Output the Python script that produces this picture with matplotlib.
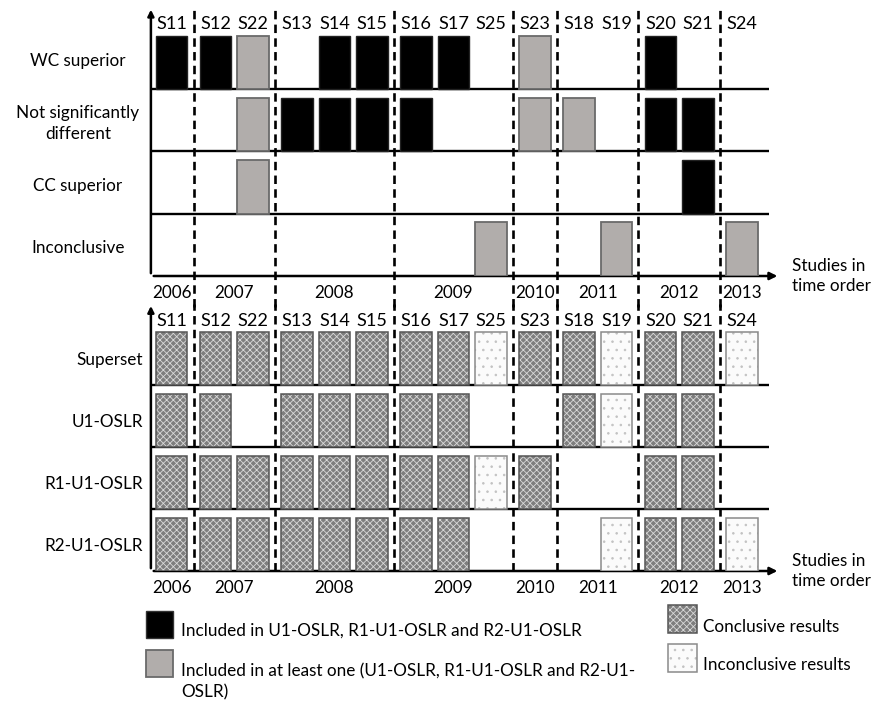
import matplotlib.pyplot as plt
from matplotlib.patches import Rectangle

plt.rcParams['font.family'] = ['Lato', 'DejaVu Sans']
plt.rcParams['hatch.linewidth'] = 0.6

# studies in time order and their year
studies = ["S11", "S12", "S22", "S13", "S14", "S15", "S16", "S17", "S25",
           "S23", "S18", "S19", "S20", "S21", "S24"]
years = [2006, 2007, 2007, 2008, 2008, 2008, 2009, 2009, 2009,
         2010, 2011, 2011, 2012, 2012, 2013]

# black = in all three sets, grey = in at least one
in_all_three = ["S11", "S12", "S13", "S14", "S15", "S16", "S17", "S20", "S21"]
inconclusive_results = ["S25", "S19", "S24"]

# top panel: outcome per study
outcome_labels = ["WC superior", "Not significantly\ndifferent", "CC superior", "Inconclusive"]
wc_superior = ["S11", "S12", "S22", "S14", "S15", "S16", "S17", "S23", "S20"]
not_different = ["S22", "S13", "S14", "S15", "S16", "S23", "S18", "S20", "S21"]
cc_superior = ["S22", "S21"]
inconclusive = ["S25", "S19", "S24"]

# bottom panel: which study sets contain the study
method_labels = ["Superset", "U1-OSLR", "R1-U1-OSLR", "R2-U1-OSLR"]
superset = studies
u1_oslr = ["S11", "S12", "S13", "S14", "S15", "S16", "S17", "S18", "S19", "S20", "S21"]
r1_u1_oslr = ["S11", "S12", "S22", "S13", "S14", "S15", "S16", "S17", "S25", "S23", "S20", "S21"]
r2_u1_oslr = ["S11", "S12", "S22", "S13", "S14", "S15", "S16", "S17", "S19", "S20", "S21", "S24"]

# x position: index plus a small gap at every change of year
gap = 0.173
pos = []
g = 0
for i, y in enumerate(years):
    if i > 0 and y != years[i - 1]:
        g += 1
    pos.append(i + gap * g)
pos_of = dict(zip(studies, pos))

bounds = [(pos[i - 1] + pos[i]) / 2 for i in range(1, len(years)) if years[i] != years[i - 1]]
year_list = sorted(set(years))
year_x = [sum(p for p, y in zip(pos, years) if y == yr) / years.count(yr) for yr in year_list]

W = 0.84
H = 0.86
XMIN, XMAX = -0.55, 16.3
LINE_END = 15.93
ARROW_END = 16.23
fs = 12.3

CONC_FACE, CONC_HATCH, CONC_EDGE = '#7e7e7e', '#d9d9d9', '#555555'
INC_FACE, INC_HATCH, INC_EDGE = '#fbfbfb', '#c2c2c2', '#8a8a8a'


def frame(ax, top_dash_low):
    ax.set_xlim(XMIN, XMAX)
    ax.set_ylim(0, 4.35)
    ax.axis('off')
    ax.hlines([1, 2, 3], XMIN, LINE_END, color='black', lw=1.7)
    ax.annotate('', xy=(ARROW_END, 0), xytext=(XMIN, 0),
                arrowprops=dict(arrowstyle='-|>', color='black', lw=1.8, mutation_scale=11),
                annotation_clip=False)
    ax.annotate('', xy=(XMIN, 4.32), xytext=(XMIN, 0),
                arrowprops=dict(arrowstyle='-|>', color='black', lw=1.8, mutation_scale=9),
                annotation_clip=False)
    for b in bounds:
        ax.plot([b, b], [top_dash_low, 4.3], color='black', lw=1.9,
                linestyle=(0, (3.2, 2.0)), clip_on=False, zorder=1)
    for s, p in zip(studies, pos):
        ax.text(p, 4.04, s, ha='center', va='center', fontsize=fs + 0.8)
    for yr, x in zip(year_list, year_x):
        ax.text(x, -0.27, str(yr), ha='center', va='center', fontsize=fs)
    ax.text(16.55, 0.0, "Studies in\ntime order", ha='left', va='center',
            fontsize=fs, linespacing=1.3)


def solid_bar(ax, x, y0, study):
    if study in in_all_three:
        ax.bar(x, H, W, bottom=y0, color='black', edgecolor='#222222', lw=1, zorder=3)
    else:
        ax.bar(x, H, W, bottom=y0, color='#b1adab', edgecolor='#6a6a6a', lw=1.3, zorder=3)


def texture_bar(ax, x, y0, study):
    if study in inconclusive_results:
        ax.bar(x, H, W, bottom=y0, color=INC_FACE, edgecolor=INC_HATCH, hatch='..', lw=0, zorder=3)
        ax.bar(x, H, W, bottom=y0, fill=False, edgecolor=INC_EDGE, lw=1.1, zorder=4)
    else:
        ax.bar(x, H, W, bottom=y0, color=CONC_FACE, edgecolor=CONC_HATCH, hatch='xxxxx', lw=0, zorder=3)
        ax.bar(x, H, W, bottom=y0, fill=False, edgecolor=CONC_EDGE, lw=1.1, zorder=4)


fig = plt.figure(figsize=(8.77, 7.04), dpi=100)
ax1 = fig.add_axes([150.9 / 877, (704 - 276) / 704, 631.9 / 877, 4.35 * 62.3 / 704])
ax2 = fig.add_axes([150.9 / 877, (704 - 571) / 704, 631.9 / 877, 4.35 * 62.0 / 704])

# top panel
frame(ax1, -0.5)
outcome_sets = [wc_superior, not_different, cc_superior, inconclusive]
for k, (lab, members) in enumerate(zip(outcome_labels, outcome_sets)):
    row = 3 - k
    for s in members:
        solid_bar(ax1, pos_of[s], row, s)
    ax1.text(-2.5, row + 0.45, lab, ha='center', va='center', fontsize=fs, linespacing=1.35)

# bottom panel
frame(ax2, 0)
method_sets = [superset, u1_oslr, r1_u1_oslr, r2_u1_oslr]
for k, (lab, members) in enumerate(zip(method_labels, method_sets)):
    row = 3 - k
    for s in members:
        texture_bar(ax2, pos_of[s], row, s)
    ax2.text(-0.76, row + 0.4, lab, ha='right', va='center', fontsize=fs)

# legend drawn in pixel space
lax = fig.add_axes([0, 0, 1, 1])
lax.set_xlim(0, 877)
lax.set_ylim(704, 0)
lax.axis('off')
lax.add_patch(Rectangle((146, 611), 27, 27, facecolor='black', edgecolor='#333333', lw=1))
lax.add_patch(Rectangle((146, 650), 27, 27, facecolor='#b1adab', edgecolor='#6a6a6a', lw=1.3))
lax.text(181, 631, "Included in U1-OSLR, R1-U1-OSLR and R2-U1-OSLR", va='center', fontsize=fs)
lax.text(181, 682, "Included in at least one (U1-OSLR, R1-U1-OSLR and R2-U1-\nOSLR)",
         va='center', fontsize=fs, linespacing=1.35)
lax.add_patch(Rectangle((668, 605), 29, 28, facecolor=CONC_FACE, edgecolor=CONC_HATCH, hatch='xxxxx', lw=0))
lax.add_patch(Rectangle((668, 605), 29, 28, fill=False, edgecolor=CONC_EDGE, lw=1.1))
lax.add_patch(Rectangle((668, 644), 29, 28, facecolor=INC_FACE, edgecolor=INC_HATCH, hatch='..', lw=0))
lax.add_patch(Rectangle((668, 644), 29, 28, fill=False, edgecolor=INC_EDGE, lw=1.1))
lax.text(703, 627, "Conclusive results", va='center', fontsize=fs)
lax.text(703, 665, "Inconclusive results", va='center', fontsize=fs)

fig.savefig("out.png", dpi=100)
